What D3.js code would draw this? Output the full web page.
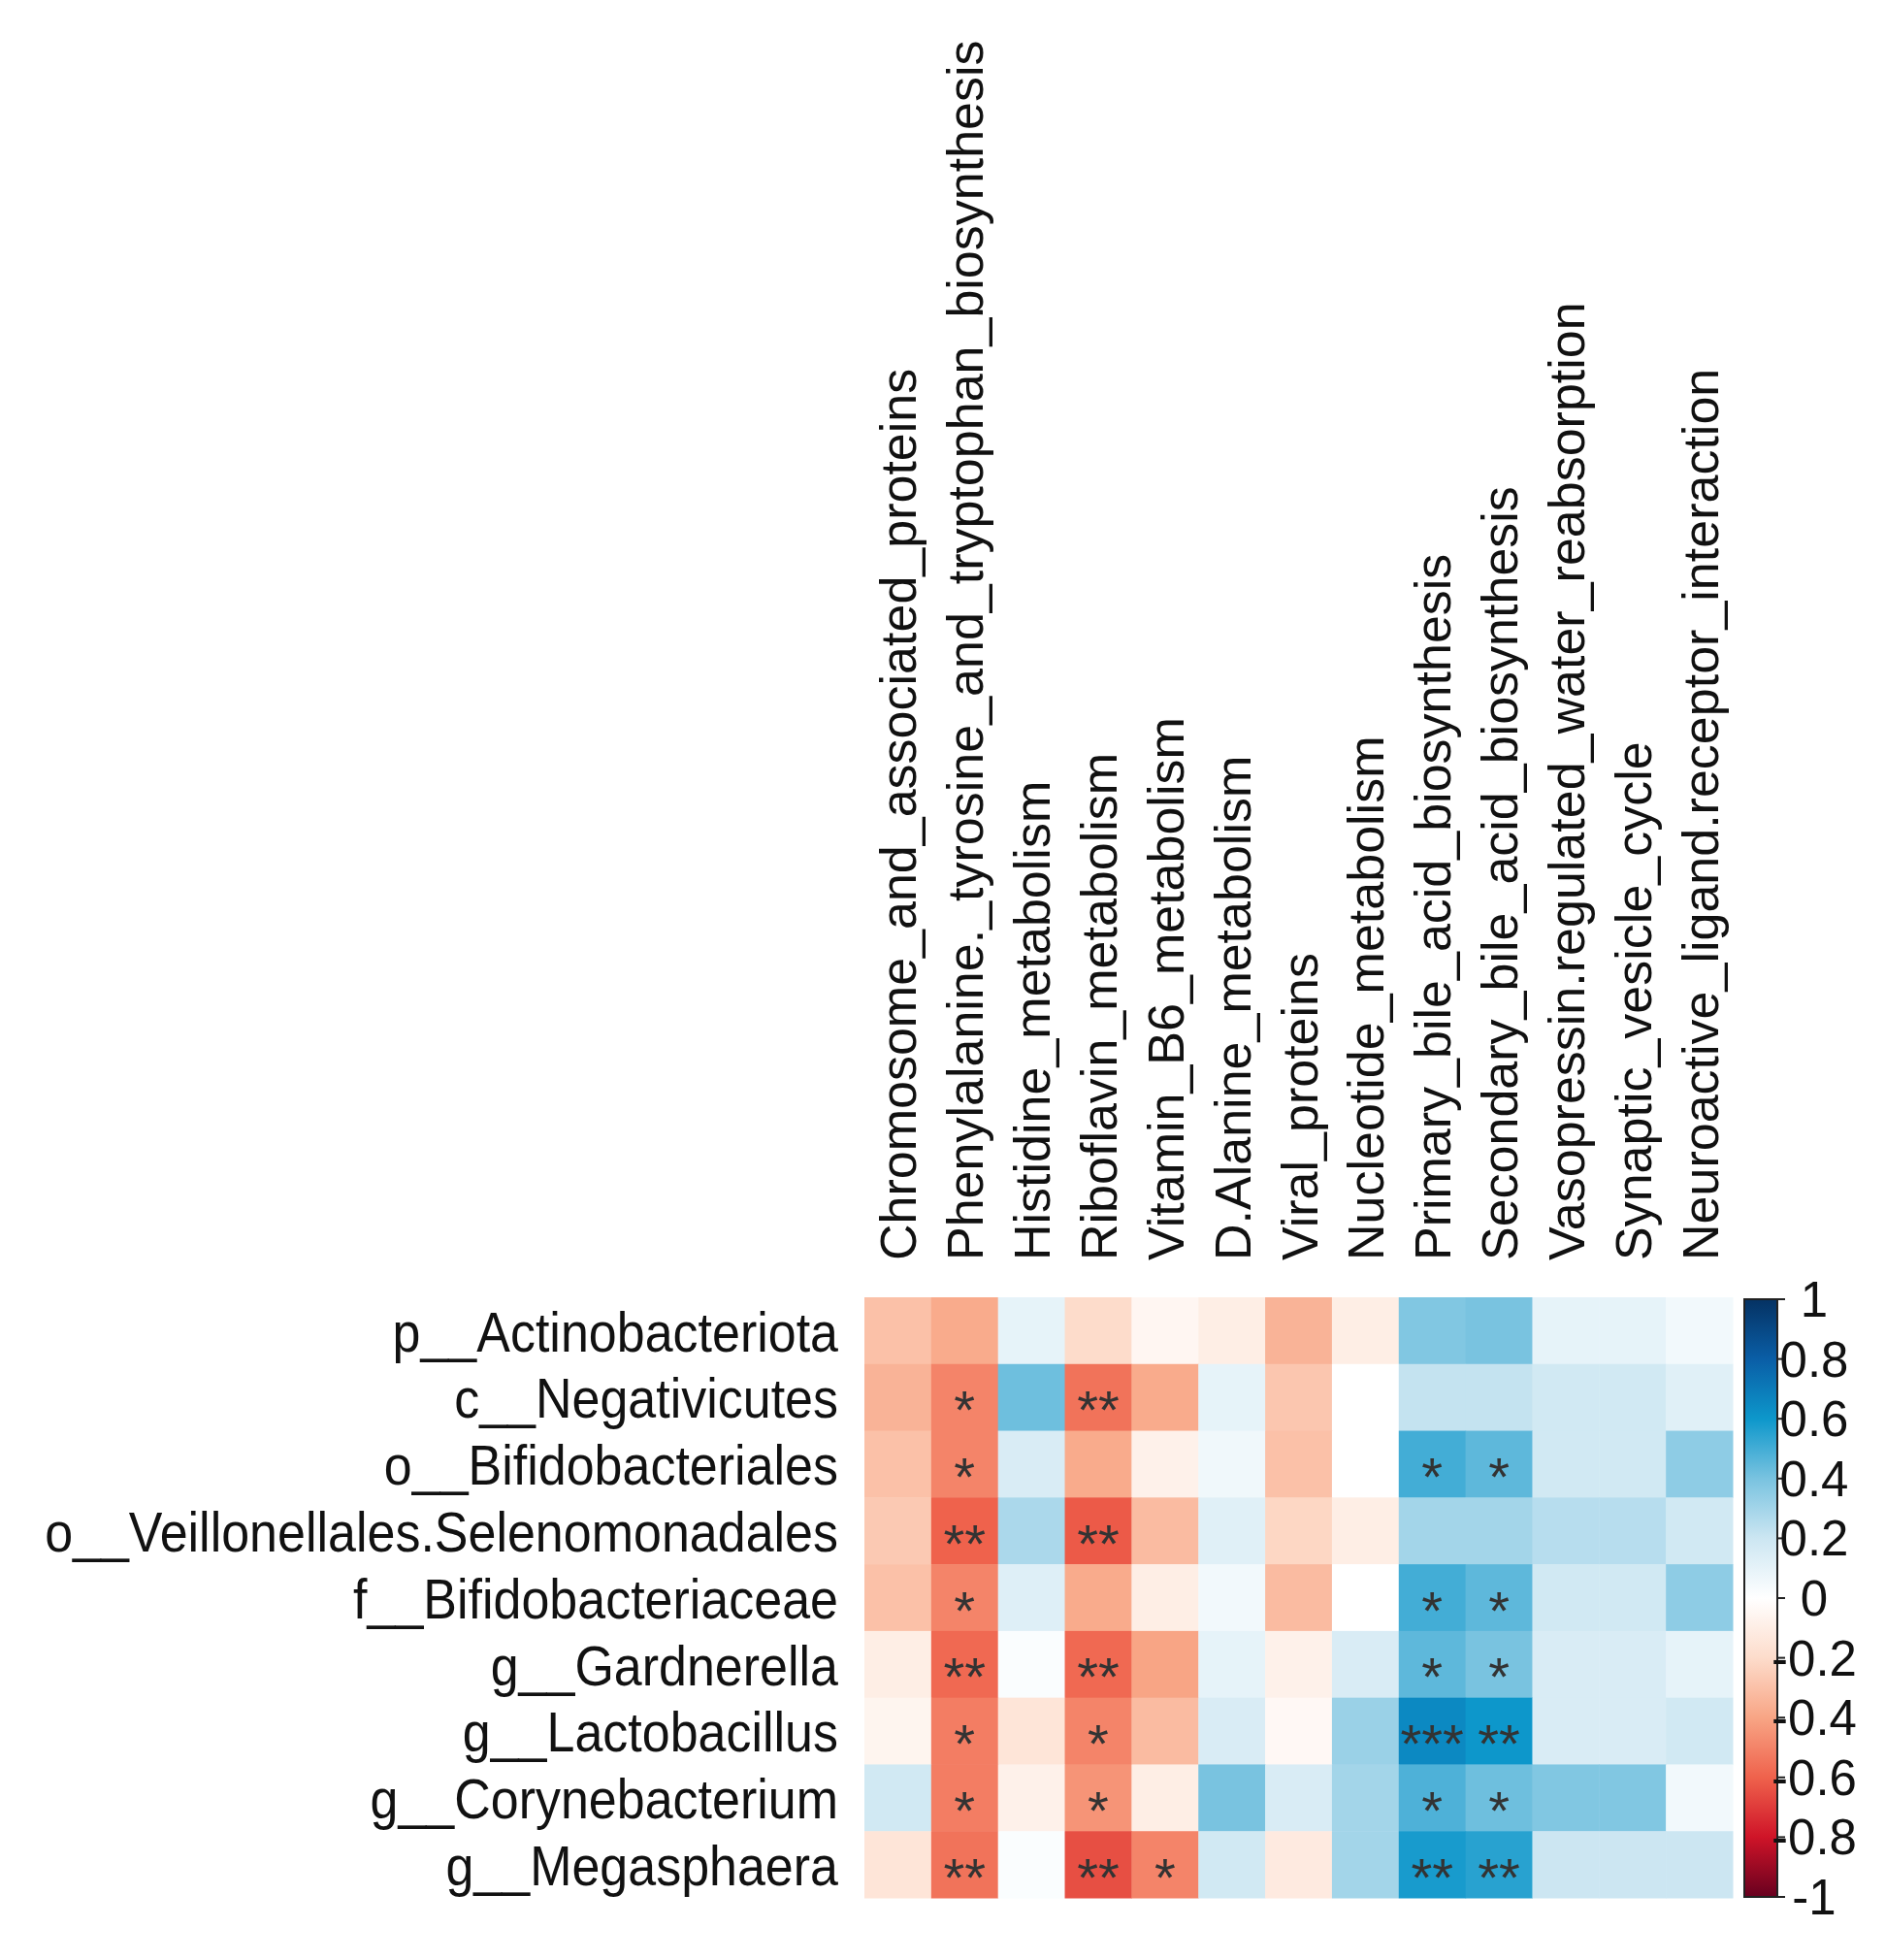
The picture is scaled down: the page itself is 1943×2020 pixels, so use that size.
<!DOCTYPE html>
<html>
<head>
<meta charset="utf-8">
<script src="https://cdn.jsdelivr.net/npm/d3@7"></script>
<style>
  body { margin: 0; background: #ffffff; }
  svg text { font-family: "Liberation Sans", Arial, sans-serif; }
</style>
</head>
<body>
<div id="chart"></div>
<script>

// pathways (columns)
const columns = [
    "Chromosome_and_associated_proteins",
    "Phenylalanine._tyrosine_and_tryptophan_biosynthesis",
    "Histidine_metabolism",
    "Riboflavin_metabolism",
    "Vitamin_B6_metabolism",
    "D.Alanine_metabolism",
    "Viral_proteins",
    "Nucleotide_metabolism",
    "Primary_bile_acid_biosynthesis",
    "Secondary_bile_acid_biosynthesis",
    "Vasopressin.regulated_water_reabsorption",
    "Synaptic_vesicle_cycle",
    "Neuroactive_ligand.receptor_interaction"
]

// taxa (rows)
const rows = [
    "p__Actinobacteriota",
    "c__Negativicutes",
    "o__Bifidobacteriales",
    "o__Veillonellales.Selenomonadales",
    "f__Bifidobacteriaceae",
    "g__Gardnerella",
    "g__Lactobacillus",
    "g__Corynebacterium",
    "g__Megasphaera"
]

// correlation values, one array per row
const corr = [
    [-0.30, -0.38,  0.10, -0.20, -0.05, -0.10, -0.35, -0.10,  0.38,  0.40,  0.10,  0.10,  0.05],
    [-0.35, -0.50,  0.42, -0.55, -0.38,  0.10, -0.28,  0.00,  0.22,  0.22,  0.18,  0.18,  0.12],
    [-0.30, -0.50,  0.15, -0.38, -0.08,  0.06, -0.30,  0.00,  0.50,  0.45,  0.18,  0.18,  0.35],
    [-0.27, -0.60,  0.28, -0.62, -0.32,  0.12, -0.22, -0.10,  0.30,  0.30,  0.25,  0.25,  0.18],
    [-0.30, -0.50,  0.13, -0.38, -0.10,  0.05, -0.32,  0.00,  0.50,  0.45,  0.18,  0.18,  0.35],
    [-0.10, -0.58,  0.02, -0.58, -0.40,  0.10, -0.08,  0.15,  0.45,  0.40,  0.15,  0.15,  0.10],
    [-0.06, -0.52, -0.15, -0.50, -0.32,  0.15, -0.04,  0.32,  0.65,  0.60,  0.15,  0.15,  0.18],
    [ 0.18, -0.52, -0.08, -0.45, -0.10,  0.40,  0.15,  0.30,  0.48,  0.42,  0.38,  0.38,  0.05],
    [-0.15, -0.55,  0.02, -0.65, -0.50,  0.18, -0.12,  0.30,  0.58,  0.55,  0.20,  0.20,  0.20]
]

// significance marks
const sig = [
    ["", "",   "", "",   "",  "", "", "", "",    "",   "", "", ""],
    ["", "*",  "", "**", "",  "", "", "", "",    "",   "", "", ""],
    ["", "*",  "", "",   "",  "", "", "", "*",   "*",  "", "", ""],
    ["", "**", "", "**", "",  "", "", "", "",    "",   "", "", ""],
    ["", "*",  "", "",   "",  "", "", "", "*",   "*",  "", "", ""],
    ["", "**", "", "**", "",  "", "", "", "*",   "*",  "", "", ""],
    ["", "*",  "", "*",  "",  "", "", "", "***", "**", "", "", ""],
    ["", "*",  "", "*",  "",  "", "", "", "*",   "*",  "", "", ""],
    ["", "**", "", "**", "*", "", "", "", "**",  "**", "", "", ""]
]

const legend_ticks = [1, 0.8, 0.6, 0.4, 0.2, 0, -0.2, -0.4, -0.6, -0.8, -1]
const palette_stops = [-1, -0.8, -0.6, -0.4, -0.2, 0, 0.2, 0.4, 0.6, 0.8, 1]
const palette_colors = ["#67001f", "#cf1428", "#ef624c", "#f8a585", "#fddccb", "#ffffff",
                        "#cce6f2", "#79c3e0", "#0d97cb", "#0a5ea6", "#053263"]

const width = 1943
const height = 2020

const color = d3.scaleLinear().domain(palette_stops).range(palette_colors).clamp(true)

const x = d3.scaleBand().domain(columns).range([891, 1786])
const y = d3.scaleBand().domain(rows).range([1337, 1956])
const ylegend = d3.scaleLinear().domain([-1, 1]).range([1955, 1339])

const svg = d3.select("#chart").append("svg")
    .attr("width", width)
    .attr("height", height)
    .attr("viewBox", [0, 0, width, height])

svg.append("rect").attr("width", width).attr("height", height).attr("fill", "#ffffff")

// flatten into cells
const cells = []
rows.forEach((r, i) => {
    columns.forEach((c, j) => {
        cells.push({row: r, col: c, value: corr[i][j], sig: sig[i][j]})
    })
})

svg.append("g")
    .selectAll("rect")
    .data(cells)
    .join("rect")
    .attr("x", d => x(d.col))
    .attr("y", d => y(d.row))
    .attr("width", x.bandwidth() + 0.5)
    .attr("height", y.bandwidth() + 0.5)
    .attr("fill", d => color(d.value))

svg.append("g")
    .selectAll("text")
    .data(cells.filter(d => d.sig !== ""))
    .join("text")
    .attr("x", d => x(d.col) + x.bandwidth() / 2)
    .attr("y", d => y(d.row) + y.bandwidth() / 2 + 32)
    .attr("text-anchor", "middle")
    .style("font-size", "56px")
    .style("fill", "#333333")
    .text(d => d.sig)

// row labels
svg.append("g")
    .selectAll("text")
    .data(rows)
    .join("text")
    .attr("transform", d => `translate(864,${y(d) + y.bandwidth() / 2}) scale(1,1.12)`)
    .attr("y", 19)
    .attr("text-anchor", "end")
    .style("font-size", "52px")
    .style("fill", "#111111")
    .text(d => d)

// column labels
svg.append("g")
    .selectAll("text")
    .data(columns)
    .join("text")
    .attr("transform", d => `translate(${x(d) + x.bandwidth() / 2 + 19},1299) rotate(-90)`)
    .attr("text-anchor", "start")
    .style("font-size", "52px")
    .style("fill", "#111111")
    .text(d => d)

// colour legend
const grad = svg.append("defs").append("linearGradient")
    .attr("id", "legend_grad")
    .attr("x1", 0).attr("y1", 1).attr("x2", 0).attr("y2", 0)

grad.selectAll("stop")
    .data(palette_stops)
    .join("stop")
    .attr("offset", d => (d + 1) / 2)
    .attr("stop-color", d => color(d))

svg.append("rect")
    .attr("x", 1798)
    .attr("y", ylegend(1))
    .attr("width", 34)
    .attr("height", ylegend(-1) - ylegend(1))
    .attr("fill", "url(#legend_grad)")
    .attr("stroke", "#222222")
    .attr("stroke-width", 2)

const legend = svg.append("g")

legend.selectAll("line")
    .data(legend_ticks)
    .join("line")
    .attr("x1", 1832)
    .attr("x2", 1840)
    .attr("y1", d => ylegend(d))
    .attr("y2", d => ylegend(d))
    .attr("stroke", "#222222")
    .attr("stroke-width", 2)

legend.selectAll("text")
    .data(legend_ticks)
    .join("text")
    .attr("x", 1870)
    .attr("y", d => ylegend(d) + 18)
    .attr("text-anchor", "middle")
    .style("font-size", "51px")
    .style("fill", "#111111")
    .text(d => d3.format("")(d).replace("−", "-"))

</script>
</body>
</html>
